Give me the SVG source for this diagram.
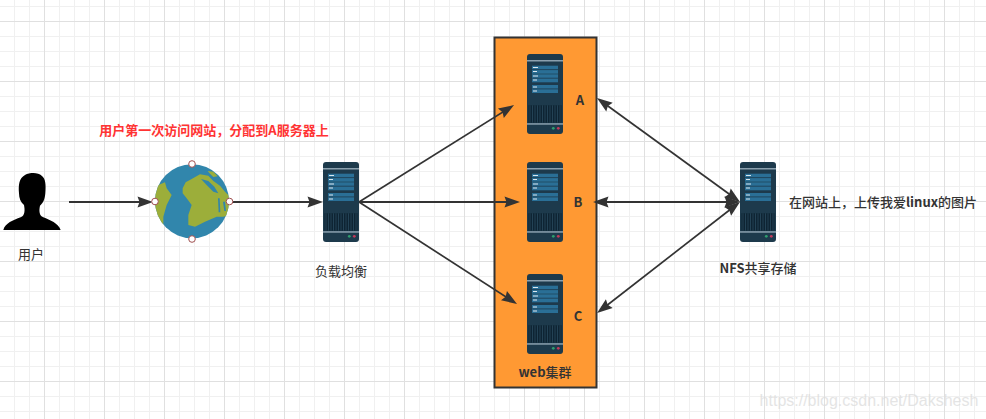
<svg xmlns="http://www.w3.org/2000/svg" width="986" height="419" viewBox="0 0 986 419">
<style>
text{font-family:"Noto Sans CJK SC","Liberation Sans",sans-serif;font-size:13px;fill:#333;text-anchor:middle;dominant-baseline:central}
.b{font-weight:700}
.m{font-weight:500}
.conn{fill:none;stroke:#333;stroke-width:2}
.diag{stroke-width:1.7}
.h{fill:#fff;stroke:#a05050;stroke-width:1}
</style>
<defs>
<pattern id="grid" patternUnits="userSpaceOnUse" width="60" height="60">
<path d="M14.5 0V60M29.5 0V60M59.5 0V60M0 6.5H60M0 36.5H60M0 51.5H60" stroke="#f0f0f0" stroke-width="1" fill="none"/>
<path d="M44.5 0V60M0 21.5H60" stroke="#e0e0e0" stroke-width="1" fill="none"/>
</pattern>
<marker id="arr" markerUnits="userSpaceOnUse" markerWidth="20" markerHeight="14" refX="11" refY="7" orient="auto-start-reverse">
<path d="M0.500 1.500L16 7L0.500 12.500L2.500 7Z" fill="#333"/>
</marker>
<clipPath id="gc"><circle cx="47" cy="46.200" r="37"/></clipPath>
<g id="server">
<rect width="36" height="80" rx="3" fill="#1d3a4c"/>
<rect y="6" width="36" height="1.500" fill="#8ba0ae"/>
<rect x="5" y="11.700" width="26" height="8" fill="#2a6f96"/>
<rect x="5" y="20.300" width="26" height="8" fill="#2a6f96"/>
<rect x="5" y="31" width="26" height="8" fill="#2a6f96"/>
<path d="M5 15.600H31M5 24.200H31M5 34.900H31" stroke="#1d3a4c" stroke-width=".8"/>
<path d="M6 13.500H11M6 17.500H10M6 22H11M6 26H10M6 33H10M6 37H10" stroke="#dbe8ef" stroke-width="1.200"/>
<rect x="1.500" y="51.300" width="33" height="17.400" fill="#0e2433"/>
<path d="M3 51.300V68.700M5.500 51.300V68.700M8 51.300V68.700M10.500 51.300V68.700M13 51.300V68.700M15.500 51.300V68.700M18 51.300V68.700M20.500 51.300V68.700M23 51.300V68.700M25.500 51.300V68.700M28 51.300V68.700M30.500 51.300V68.700M33 51.300V68.700" stroke="#2a4a5e" stroke-width=".8"/>
<rect y="69.200" width="36" height="1.500" fill="#8ba0ae"/>
<circle cx="26.300" cy="74.300" r="1.400" fill="#2e9e6e"/>
<circle cx="31.300" cy="74.300" r="1.400" fill="#c23a5a"/>
</g>
</defs>
<rect width="986" height="419" fill="#fff"/>
<rect width="986" height="419" fill="url(#grid)"/>
<text x="869" y="400" style="font-family:'Liberation Sans',sans-serif;font-size:16px;fill:#dcdcdc;opacity:.75">https://blog.csdn.net/Dakshesh</text>

<g id="web-cluster">
<rect x="494.500" y="37.500" width="102" height="350" fill="#ff9933" stroke="#333" stroke-width="2"/>
<text class="m" x="545" y="371"><tspan class="b">web</tspan>集群</text>
</g>
<g id="connectors">
<path class="conn" d="M69 202H148" marker-end="url(#arr)"/>
<path class="conn" d="M229 202H318" marker-end="url(#arr)"/>
<path class="conn diag" d="M359 202L509.800 107.700" marker-end="url(#arr)"/>
<path class="conn" d="M359 202H515" marker-end="url(#arr)"/>
<path class="conn diag" d="M359 202L512.800 301.300" marker-end="url(#arr)"/>
<path class="conn diag" d="M601 101L736 199" marker-start="url(#arr)" marker-end="url(#arr)"/>
<path class="conn" d="M598 202H735" marker-start="url(#arr)" marker-end="url(#arr)"/>
<path class="conn diag" d="M601 310L736 205" marker-start="url(#arr)" marker-end="url(#arr)"/>
</g>
<g id="user">
<path transform="translate(0,110) scale(.3333)" d="M10 360C15 340 40 330 62 322C75 317 75 300 72 285C62 278 57 265 57 250C55 225 57 205 75 195C90 187 115 187 125 197C137 205 138 225 136 250C135 265 130 280 120 287C117 300 117 317 130 322C150 330 175 340 182 360Z" fill="#000"/>
<text x="31" y="253">用户</text>
</g>
<g id="globe">
<circle cx="192" cy="201.200" r="37" fill="#3186ac"/>
<g transform="translate(145,155)" clip-path="url(#gc)">
<g transform="scale(.3333)" fill="#9cae3a">
<path d="M20 95L40 90L60 82L65 100L80 120L65 150L55 185L55 215L30 180L20 145Z"/>
<path d="M113 100L122 82L140 72L165 58L190 62L205 78L225 92L240 110L260 130L260 178L235 185L215 185L180 200L150 215L130 210L130 180L140 150L125 130L113 115Z"/>
<path d="M188 48L205 50L218 64L205 66L195 56Z"/>
<path d="M168 72L190 78L208 95L220 115L205 110L185 90Z" fill="#3186ac"/>
<path d="M219 130L224 130L226 172L221 172Z" fill="#3186ac"/>
<path d="M234 140L240 140L243 168L238 168Z" fill="#3186ac"/>
</g>
</g>
<circle class="h" cx="192" cy="164" r="3.300"/>
<circle class="h" cx="192" cy="239" r="3.300"/>
<circle class="h" cx="155" cy="201.500" r="3.300"/>
<circle class="h" cx="229.500" cy="201.500" r="3.300"/>
</g>
<g id="load-balancer">
<use href="#server" x="323" y="162"/>
<text x="341" y="270">负载均衡</text>
</g>
<g id="server-a">
<use href="#server" x="527" y="54"/>
<text class="b" x="580" y="99">A</text>
</g>
<g id="server-b">
<use href="#server" x="527" y="162"/>
<text class="b" x="578" y="201">B</text>
</g>
<g id="server-c">
<use href="#server" x="527" y="274"/>
<text class="b" x="578" y="315">C</text>
</g>
<g id="nfs">
<use href="#server" x="740" y="162"/>
<text class="m" x="758" y="267"><tspan class="b">NFS</tspan>共享存储</text>
<text class="m" x="883" y="201">在网站上&#65292;上传我爱<tspan class="b">linux</tspan>的图片</text>
</g>
<text class="b" x="214" y="129.500" style="fill:#ff3333">用户第一次访问网站&#65292;分配到A服务器上</text>
</svg>
